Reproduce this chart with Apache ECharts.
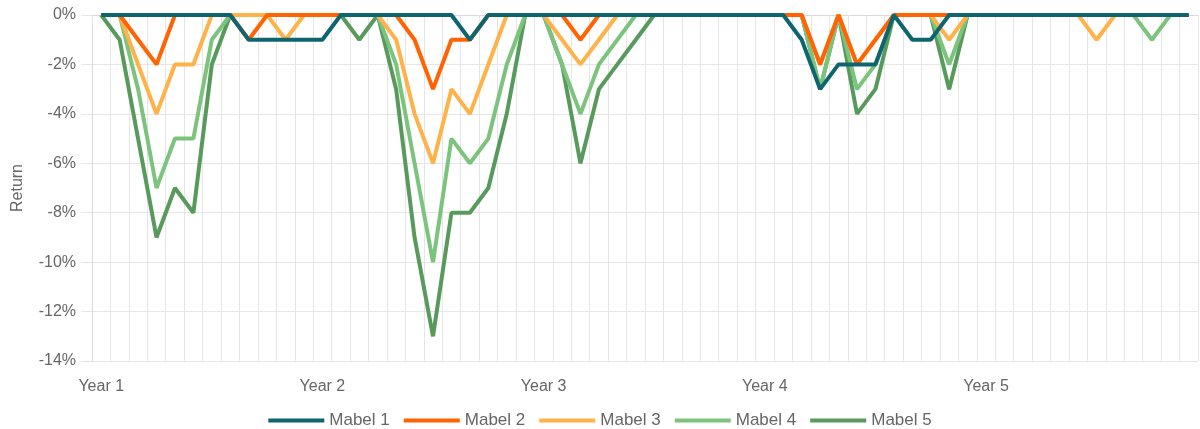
<!DOCTYPE html>
<html>
<head>
<meta charset="utf-8">
<script src="https://cdn.jsdelivr.net/npm/echarts@6/dist/echarts.min.js"></script>
<style>
  html, body { margin: 0; padding: 0; background: #fff; }
  #main { width: 1200px; height: 429px; }
</style>
</head>
<body>
<div id="main"></div>
<script>
const yearLabels = ['Year 1', 'Year 2', 'Year 3', 'Year 4', 'Year 5']
const seriesNames = ['Mabel 1', 'Mabel 2', 'Mabel 3', 'Mabel 4', 'Mabel 5']
const colors = ['#0e6570', '#ff6303', '#ffb24a', '#7cc47e', '#579a5b']

// drawdown in %, one value per month (60 months)
const mabel1 = [0, 0, 0, 0, 0, 0, 0, 0, -1, -1, -1, -1, -1, 0, 0, 0, 0, 0, 0, 0,
  -1, 0, 0, 0, 0, 0, 0, 0, 0, 0, 0, 0, 0, 0, 0, 0, 0, 0, -1, -3,
  -2, -2, -2, 0, -1, -1, 0, 0, 0, 0, 0, 0, 0, 0, 0, 0, 0, 0, 0, 0]
const mabel2 = [0, 0, -1, -2, 0, 0, 0, 0, -1, 0, 0, 0, 0, 0, 0, 0, 0, -1, -3, -1,
  -1, 0, 0, 0, 0, 0, -1, 0, 0, 0, 0, 0, 0, 0, 0, 0, 0, 0, 0, -2,
  0, -2, -1, 0, 0, 0, 0, 0, 0, 0, 0, 0, 0, 0, 0, 0, 0, 0, 0, 0]
const mabel3 = [0, 0, -2, -4, -2, -2, 0, 0, 0, 0, -1, 0, 0, 0, 0, 0, -1, -4, -6, -3,
  -4, -2, 0, 0, 0, -1, -2, -1, 0, 0, 0, 0, 0, 0, 0, 0, 0, 0, 0, -2,
  0, -2, -1, 0, 0, 0, -1, 0, 0, 0, 0, 0, 0, 0, -1, 0, 0, 0, 0, 0]
const mabel4 = [0, 0, -3, -7, -5, -5, -1, 0, 0, 0, 0, 0, 0, 0, 0, 0, -2, -6, -10, -5,
  -6, -5, -2, 0, 0, -2, -4, -2, -1, 0, 0, 0, 0, 0, 0, 0, 0, 0, 0, -3,
  0, -3, -2, 0, 0, 0, -2, 0, 0, 0, 0, 0, 0, 0, 0, 0, 0, -1, 0, 0]
const mabel5 = [0, -1, -5, -9, -7, -8, -2, 0, 0, 0, 0, 0, 0, 0, -1, 0, -3, -9, -13, -8,
  -8, -7, -4, 0, 0, -2, -6, -3, -2, -1, 0, 0, 0, 0, 0, 0, 0, 0, 0, -3,
  0, -4, -3, 0, 0, 0, -3, 0, 0, 0, 0, 0, 0, 0, 0, 0, 0, 0, 0, 0]
const allData = [mabel1, mabel2, mabel3, mabel4, mabel5]

const months = []
yearLabels.forEach(function (y) {
  for (let m = 1; m <= 12; m++) months.push(y + ' M' + m)
})

var myChart = echarts.init(document.getElementById('main'))
var option = {
  animation: false,
  textStyle: { fontFamily: 'Liberation Sans, Arial, sans-serif' },
  grid: { left: 92, right: 2, top: 15, bottom: 68 },
  legend: {
    data: seriesNames,
    top: 407,
    left: 'center',
    icon: 'rect',
    itemWidth: 56,
    itemHeight: 4,
    itemGap: 14,
    textStyle: { color: '#666', fontSize: 17 }
  },
  xAxis: {
    type: 'category',
    data: months,
    boundaryGap: true,
    axisLine: { lineStyle: { color: '#d9d9d9', width: 1 } },
    axisTick: { show: true, interval: 0, length: 10, lineStyle: { color: '#e6e6e6' } },
    splitLine: { show: true, interval: 0, lineStyle: { color: '#e6e6e6' } },
    axisLabel: {
      interval: 11,
      margin: 18,
      color: '#666',
      fontSize: 16,
      formatter: function (v) { return v.split(' M')[0] }
    }
  },
  yAxis: {
    type: 'value',
    min: -14,
    max: 0,
    interval: 2,
    name: 'Return',
    nameLocation: 'middle',
    nameGap: 66,
    nameTextStyle: { color: '#666', fontSize: 16 },
    axisLine: { show: true, lineStyle: { color: '#d9d9d9' } },
    axisTick: { show: true, length: 11, lineStyle: { color: '#e6e6e6' } },
    splitLine: { lineStyle: { color: '#e6e6e6' } },
    axisLabel: { color: '#666', fontSize: 16, margin: 16, formatter: '{value}%' }
  },
  series: seriesNames.map(function (name, i) {
    return {
      name: name,
      type: 'line',
      data: allData[i],
      z: 10 - i,
      showSymbol: false,
      color: colors[i],
      lineStyle: { width: 4, color: colors[i] }
    }
  })
}

option && myChart.setOption(option)
</script>
</body>
</html>
